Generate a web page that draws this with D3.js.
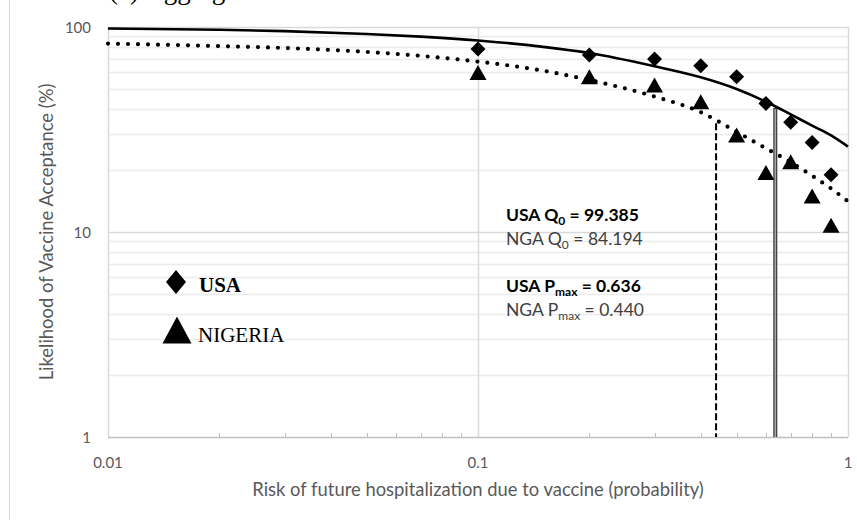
<!DOCTYPE html>
<html>
<head>
<meta charset="utf-8">
<script src="https://cdn.jsdelivr.net/npm/d3@7"></script>
<style>
  body { margin: 0; background: #fff; }
  svg { display: block; }
  .tick-label { font-family: Lato, "Open Sans", sans-serif; fill: #595959; }
  .axis-title { font-family: Lato, "Open Sans", sans-serif; fill: #595959; }
  .note { font-family: Lato, "Open Sans", sans-serif; }
</style>
</head>
<body>
<svg id="mainChart" width="857" height="520"></svg>
<script>
// observed points (risk level vs % accepting)
var riskLevels = [0.1, 0.2, 0.3, 0.4, 0.5, 0.6, 0.7, 0.8, 0.9];
var usaAcceptance = [78.1, 73.0, 69.8, 64.7, 57.2, 42.4, 34.3, 27.3, 19.0];
var ngaAcceptance = [60.0, 57.2, 52.1, 43.2, 29.7, 19.5, 22.0, 15.0, 10.8];

// fitted curves
var curveRisk = [0.01, 0.02, 0.03, 0.05, 0.07, 0.1, 0.15, 0.2, 0.3, 0.4, 0.5, 0.6, 0.7, 0.8, 0.9, 1];
var usaCurve = [98.4, 97.0, 95.5, 92.5, 89.8, 86.0, 80.0, 74.6, 64.3, 56.8, 49.8, 43.2, 37.5, 33.0, 29.6, 26.1];
var ngaCurve = [83.0, 80.7, 79.0, 75.6, 72.3, 67.8, 61.2, 55.1, 45.8, 38.4, 30.8, 25.6, 21.9, 18.8, 16.3, 14.1];

// Pmax drop lines: x value and the curve height where they start
var pmaxValues = [0.636, 0.440];
var pmaxTops = [40.3, 33.9];

var xTicks = [0.01, 0.1, 1];
var yTicks = [1, 10, 100];
var yMinor = [2, 3, 4, 5, 6, 7, 8, 9, 20, 30, 40, 50, 60, 70, 80, 90];
var xMinor = [0.02, 0.03, 0.04, 0.05, 0.06, 0.07, 0.08, 0.09, 0.2, 0.3, 0.4, 0.5, 0.6, 0.7, 0.8, 0.9];

var svg = d3.select("#mainChart");

var x = d3.scaleLog().domain([0.01, 1]).range([108, 848]);
var y = d3.scaleLog().domain([1, 100]).range([437, 27]);

// outer frame line on the left
svg.append("line")
  .attr("x1", 9.5).attr("x2", 9.5)
  .attr("y1", 0).attr("y2", 520)
  .attr("stroke", "#d9d9d9").attr("stroke-width", 1);

// panel title, mostly above the top edge like in the source
svg.append("text")
  .attr("x", 109).attr("y", -1)
  .style("font-family", "'Liberation Serif', 'DejaVu Serif', serif")
  .style("font-size", "27px")
  .attr("fill", "#000")
  .text("(a) Aggregate");

var grid = svg.append("g");

grid.selectAll(".minor")
  .data(yMinor)
  .enter()
  .append("line")
  .attr("x1", x(0.01)).attr("x2", x(1))
  .attr("y1", function(d) { return Math.round(y(d)) + 0.5; })
  .attr("y2", function(d) { return Math.round(y(d)) + 0.5; })
  .attr("stroke", "#ebebeb").attr("stroke-width", 1.5);

grid.selectAll(".major")
  .data(yTicks)
  .enter()
  .append("line")
  .attr("x1", x(0.01)).attr("x2", x(1))
  .attr("y1", function(d) { return Math.round(y(d)) + 0.5; })
  .attr("y2", function(d) { return Math.round(y(d)) + 0.5; })
  .attr("stroke", function(d) { return d === 1 ? "#bfbfbf" : "#d9d9d9"; })
  .attr("stroke-width", 1.5);

grid.selectAll(".vmajor")
  .data(xTicks)
  .enter()
  .append("line")
  .attr("x1", function(d) { return Math.round(x(d)) + 0.5; })
  .attr("x2", function(d) { return Math.round(x(d)) + 0.5; })
  .attr("y1", y(100)).attr("y2", y(1))
  .attr("stroke", "#d9d9d9").attr("stroke-width", 1.5);

// small minor ticks pointing up from the x axis
grid.selectAll(".xminor")
  .data(xMinor)
  .enter()
  .append("line")
  .attr("x1", function(d) { return Math.round(x(d)) + 0.5; })
  .attr("x2", function(d) { return Math.round(x(d)) + 0.5; })
  .attr("y1", y(1) - 4).attr("y2", y(1))
  .attr("stroke", "#bfbfbf").attr("stroke-width", 1);

// tick labels
svg.selectAll(".ylab")
  .data(yTicks)
  .enter()
  .append("text")
  .attr("class", "tick-label")
  .attr("x", 91)
  .attr("y", function(d) { return y(d) + 5.5; })
  .attr("text-anchor", "end")
  .style("font-size", "15px")
  .text(function(d) { return d; });

svg.selectAll(".xlab")
  .data(xTicks)
  .enter()
  .append("text")
  .attr("class", "tick-label")
  .attr("x", function(d) { return x(d); })
  .attr("y", 468)
  .attr("text-anchor", "middle")
  .style("font-size", "15px")
  .text(function(d) { return d; });

svg.append("text")
  .attr("class", "axis-title")
  .attr("x", 478).attr("y", 496)
  .attr("text-anchor", "middle")
  .style("font-size", "18.4px")
  .text("Risk of future hospitalization due to vaccine (probability)");

svg.append("text")
  .attr("class", "axis-title")
  .attr("transform", "translate(53,232) rotate(-90)")
  .attr("text-anchor", "middle")
  .style("font-size", "18.4px")
  .text("Likelihood of Vaccine Acceptance (%)");

// Pmax drop lines
svg.append("line")
  .attr("x1", x(pmaxValues[1])).attr("x2", x(pmaxValues[1]))
  .attr("y1", y(pmaxTops[1])).attr("y2", y(1))
  .attr("stroke", "#000").attr("stroke-width", 2)
  .attr("stroke-dasharray", "7,3");

svg.append("line")
  .attr("x1", x(pmaxValues[0])).attr("x2", x(pmaxValues[0]))
  .attr("y1", y(pmaxTops[0])).attr("y2", y(1))
  .attr("stroke", "#3a3a3a").attr("stroke-width", 4);
svg.append("line")
  .attr("x1", x(pmaxValues[0])).attr("x2", x(pmaxValues[0]))
  .attr("y1", y(pmaxTops[0]) + 1).attr("y2", y(1))
  .attr("stroke", "#a6a6a6").attr("stroke-width", 1.6);

// markers
function diamond(cx, cy, hw, hh) {
  return "M" + cx + "," + (cy - hh) + "L" + (cx + hw) + "," + cy +
    "L" + cx + "," + (cy + hh) + "L" + (cx - hw) + "," + cy + "Z";
}
function triangle(cx, cy, w, h) {
  return "M" + cx + "," + (cy - h / 2) + "L" + (cx + w / 2) + "," + (cy + h / 2) +
    "L" + (cx - w / 2) + "," + (cy + h / 2) + "Z";
}

svg.append("g")
  .selectAll("path")
  .data(riskLevels)
  .enter()
  .append("path")
  .attr("d", function(d, i) { return diamond(x(d), y(usaAcceptance[i]), 7.5, 7.5); })
  .attr("fill", "#000");

svg.append("g")
  .selectAll("path")
  .data(riskLevels)
  .enter()
  .append("path")
  .attr("d", function(d, i) { return triangle(x(d), y(ngaAcceptance[i]), 17, 15); })
  .attr("fill", "#000");

// fitted curves
var line = d3.line()
  .x(function(d) { return x(d[0]); })
  .y(function(d) { return y(d[1]); })
  .curve(d3.curveMonotoneX);

svg.append("path")
  .datum(d3.zip(curveRisk, usaCurve))
  .attr("d", line)
  .attr("fill", "none")
  .attr("stroke", "#000")
  .attr("stroke-width", 2.6);

svg.append("path")
  .datum(d3.zip(curveRisk, ngaCurve))
  .attr("d", line)
  .attr("fill", "none")
  .attr("stroke", "#000")
  .attr("stroke-width", 4.2)
  .attr("stroke-linecap", "round")
  .attr("stroke-dasharray", "0,10");

// legend
svg.append("path").attr("d", diamond(176, 282, 10, 12)).attr("fill", "#000");
svg.append("path").attr("d", triangle(177, 330, 29, 27)).attr("fill", "#000");
svg.append("text")
  .attr("x", 199).attr("y", 292)
  .style("font-family", "'Liberation Serif', serif")
  .style("font-size", "21px").style("font-weight", "bold")
  .text("USA");
svg.append("text")
  .attr("x", 198).attr("y", 342)
  .style("font-family", "'Liberation Serif', serif")
  .style("font-size", "21px")
  .text("NIGERIA");

// annotation block
var notes = [
  { country: "USA", sym: "Q", sub: "0", val: "99.385", bold: true, yy: 221 },
  { country: "NGA", sym: "Q", sub: "0", val: "84.194", bold: false, yy: 245 },
  { country: "USA", sym: "P", sub: "max", val: "0.636", bold: true, yy: 292 },
  { country: "NGA", sym: "P", sub: "max", val: "0.440", bold: false, yy: 316 }
];
notes.forEach(function(n) {
  var t = svg.append("text")
    .attr("class", "note")
    .attr("x", 506).attr("y", n.yy)
    .style("font-size", "17.5px")
    .style("font-weight", n.bold ? "bold" : "normal")
    .attr("fill", n.bold ? "#000" : "#404040");
  t.append("tspan").text(n.country + " " + n.sym);
  t.append("tspan").attr("dy", 4).style("font-size", "12px").text(n.sub);
  t.append("tspan").attr("dy", -4).text(" = " + n.val);
});
</script>
</body>
</html>
